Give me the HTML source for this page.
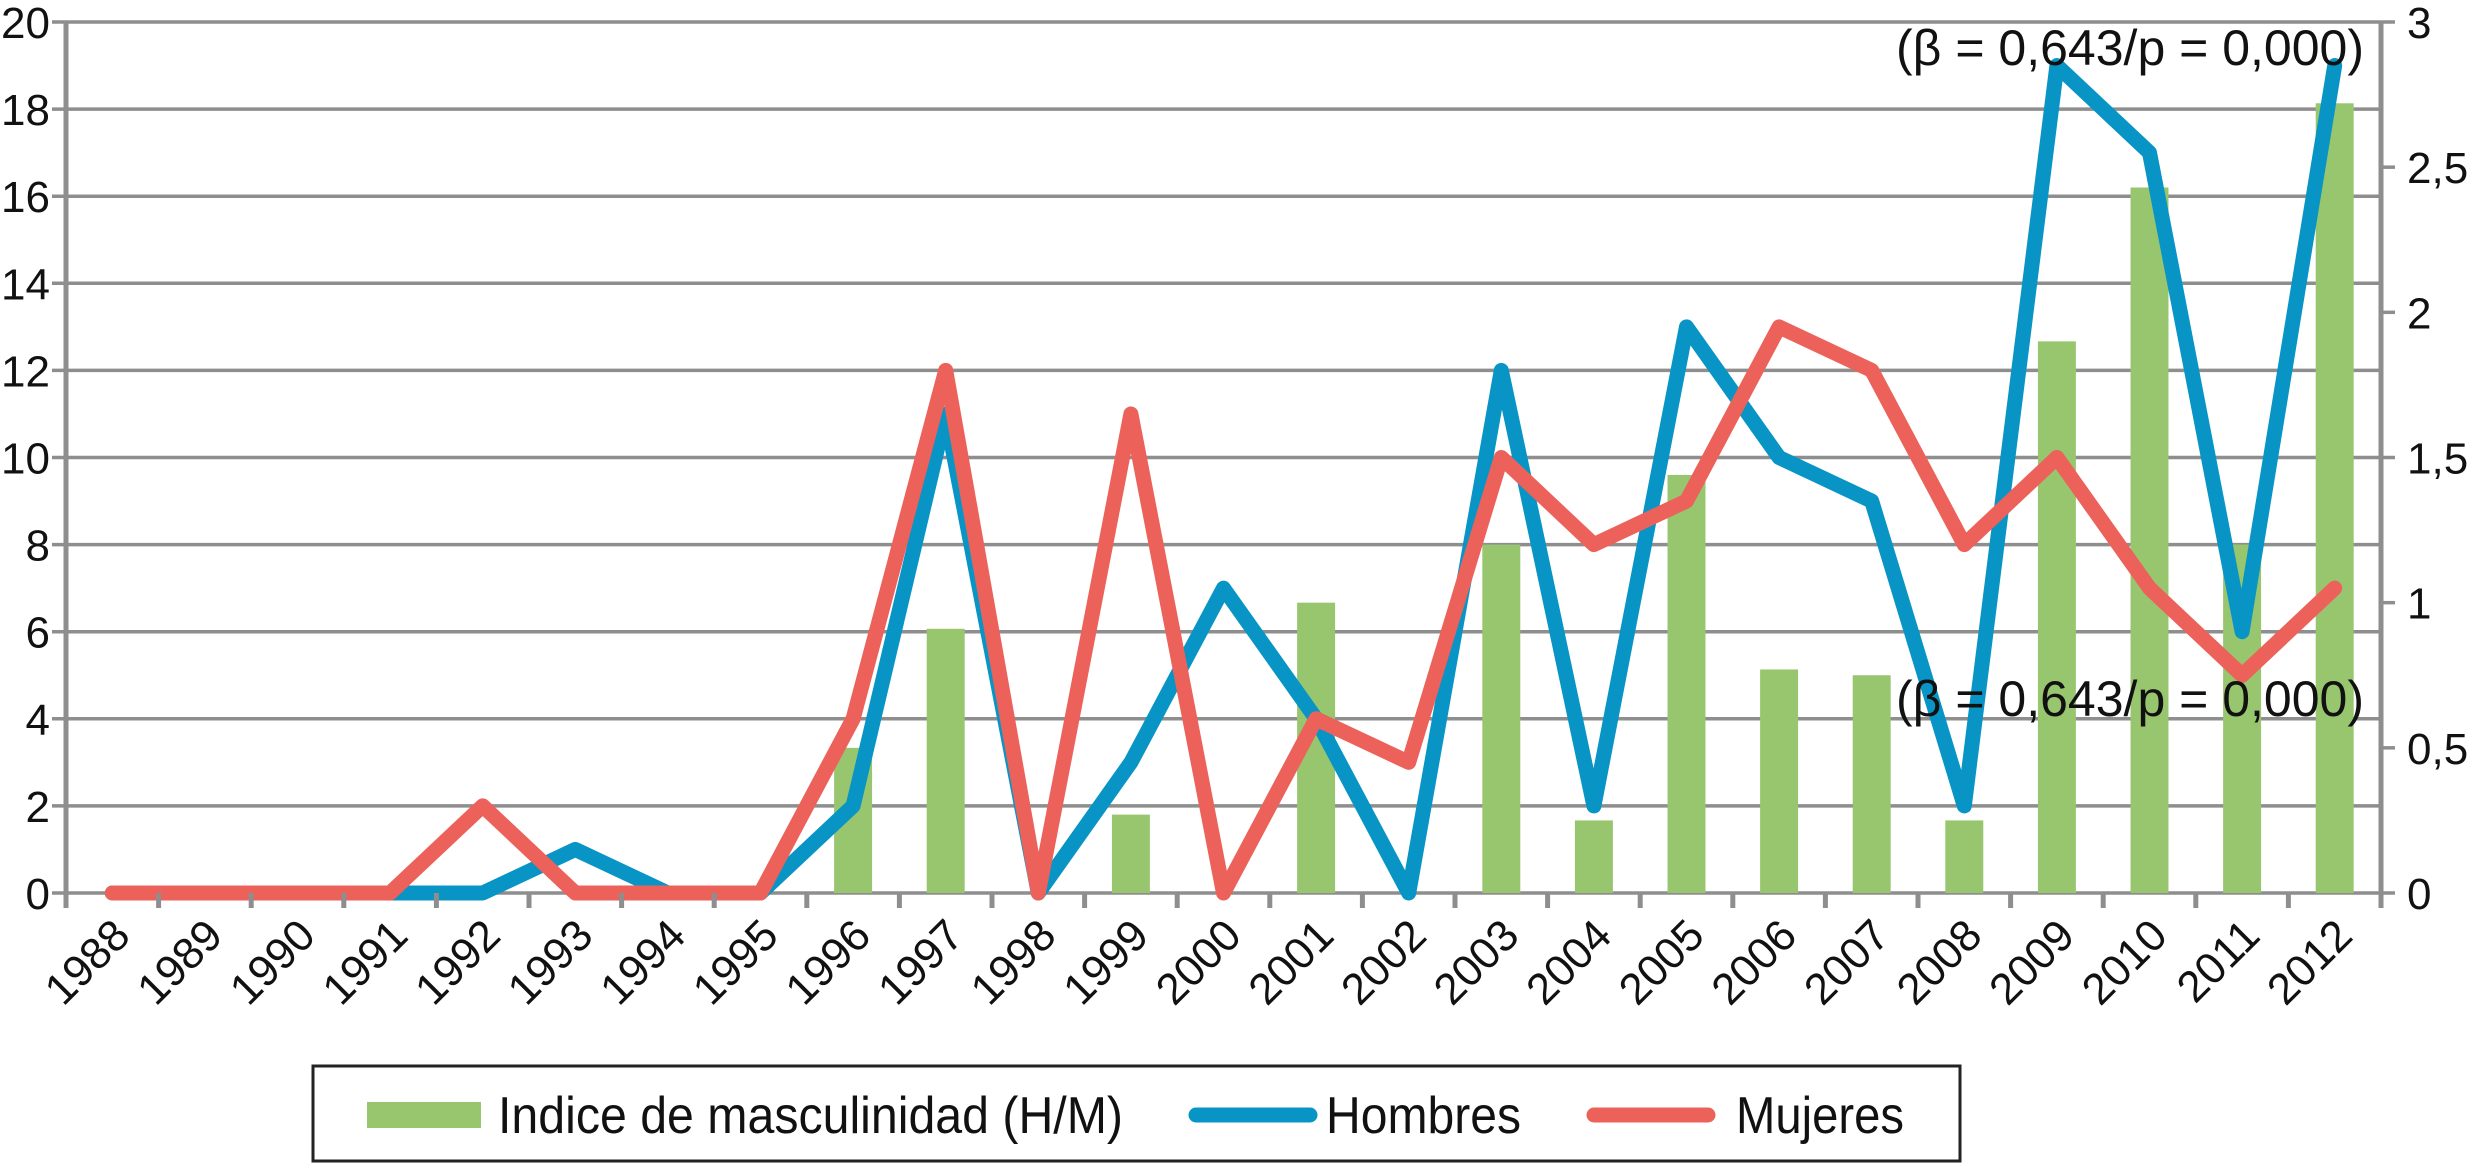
<!DOCTYPE html>
<html><head><meta charset="utf-8"><style>
html,body{margin:0;padding:0;background:#fff;}
svg{display:block;font-family:"Liberation Sans",sans-serif;}
</style></head><body>
<svg id="chart" width="2470" height="1165" viewBox="0 0 2470 1165" xmlns="http://www.w3.org/2000/svg">
<g id="grid"></g>
<g id="bars"></g>
<g id="lines"></g>
<g id="axes"></g>
<text x="2364" y="65" font-size="50" text-anchor="end" fill="#111">(β = 0,643/p = 0,000)</text>
<text x="2364" y="716" font-size="50" text-anchor="end" fill="#111">(β = 0,643/p = 0,000)</text>
<g>
<rect x="313" y="1066" width="1647" height="95" fill="#fff" stroke="#222" stroke-width="3"/>
<rect x="367" y="1102" width="114" height="26" fill="#98c66f"/>
<text x="498" y="1133" font-size="52" textLength="625" lengthAdjust="spacingAndGlyphs" fill="#111">Indice de masculinidad (H/M)</text>
<line x1="1196" y1="1115" x2="1310" y2="1115" stroke="#0895c6" stroke-width="15" stroke-linecap="round"/>
<text x="1326" y="1133" font-size="52" textLength="195" lengthAdjust="spacingAndGlyphs" fill="#111">Hombres</text>
<line x1="1594" y1="1115" x2="1708" y2="1115" stroke="#ec625a" stroke-width="15" stroke-linecap="round"/>
<text x="1736" y="1133" font-size="52" textLength="168" lengthAdjust="spacingAndGlyphs" fill="#111">Mujeres</text>
</g>
</svg>
<script>
const years = ["1988","1989","1990","1991","1992","1993","1994","1995","1996","1997","1998","1999","2000","2001","2002","2003","2004","2005","2006","2007","2008","2009","2010","2011","2012"];
const hombres = [0,0,0,0,0,1,0,0,2,11,0,3,7,4,0,12,2,13,10,9,2,19,17,6,19];
const mujeres = [0,0,0,0,2,0,0,0,4,12,0,11,0,4,3,10,8,9,13,12,8,10,7,5,7];
const indice = [0,0,0,0,0,0,0,0,0.5,0.91,0,0.27,0,1.0,0,1.2,0.25,1.44,0.77,0.75,0.25,1.9,2.43,1.2,2.72];
const leftTicks = ["0","2","4","6","8","10","12","14","16","18","20"];
const rightTicks = ["0","0,5","1","1,5","2","2,5","3"];

const NS="http://www.w3.org/2000/svg";
const L=66,R=2381,T=22,B=893;
const n=years.length, cw=(R-L)/n;
const xC=i=>L+cw*(i+0.5);
const yL=v=>B-(v/20)*(B-T);
const yR=v=>B-(v/3)*(B-T);
function mk(tag,attrs,parent){const e=document.createElementNS(NS,tag);for(const k in attrs)e.setAttribute(k,attrs[k]);parent.appendChild(e);return e;}
const grid=document.getElementById('grid'),bars=document.getElementById('bars'),lines=document.getElementById('lines'),axes=document.getElementById('axes');
const G="#8e8e8e";
leftTicks.forEach((t,i)=>{
  const v=i*2,y=yL(v);
  const gl=mk('line',{x1:L-14,x2:R,y1:y,y2:y,stroke:G,'stroke-width':3.5},grid);
  
  
  const tx=mk('text',{x:50,y:y+16,'font-size':44,'text-anchor':'end',fill:'#111'},axes);
  tx.textContent=t;
  
  
});
rightTicks.forEach((t,i)=>{
  const y=yR(i*0.5);
  const tk=mk('line',{x1:R,x2:R+14,y1:y,y2:y,stroke:G,'stroke-width':3.5},axes);
  
  
  const tx=mk('text',{x:R+26,y:y+16,'font-size':44,fill:'#111'},axes);
  tx.textContent=t;
  
  
});
indice.forEach((v,i)=>{
  if(v<=0)return;
  const w=cw*0.41;
  const r=mk('rect',{x:xC(i)-w/2,y:yR(v),width:w,height:B-yR(v),fill:'#98c66f'},bars);
  
  
});
const la=mk('line',{x1:L,x2:L,y1:T,y2:B+14,stroke:G,'stroke-width':5},axes);


const ra=mk('line',{x1:R,x2:R,y1:T,y2:B+14,stroke:G,'stroke-width':5},axes);


for(let i=0;i<=n;i++){
  const x=L+cw*i;
  const tk=mk('line',{x1:x,x2:x,y1:B,y2:B+15,stroke:G,'stroke-width':5},axes);
  
  
}
years.forEach((yr,i)=>{
  const x=xC(i)+20,y=938;
  const tx=mk('text',{x:x,y:y,'font-size':44,'text-anchor':'end',fill:'#111',transform:`rotate(-45 ${x} ${y})`},axes);
  tx.textContent=yr;
  
  
});
function poly(data,color,name){
  const p=mk('polyline',{points:data.map((v,i)=>xC(i)+','+yL(v)).join(' '),fill:'none',stroke:color,'stroke-width':15,'stroke-linejoin':'round','stroke-linecap':'round'},lines);
  
  
}
poly(hombres,'#0895c6','line-hombres');
poly(mujeres,'#ec625a','line-mujeres');
</script>
</body></html>
